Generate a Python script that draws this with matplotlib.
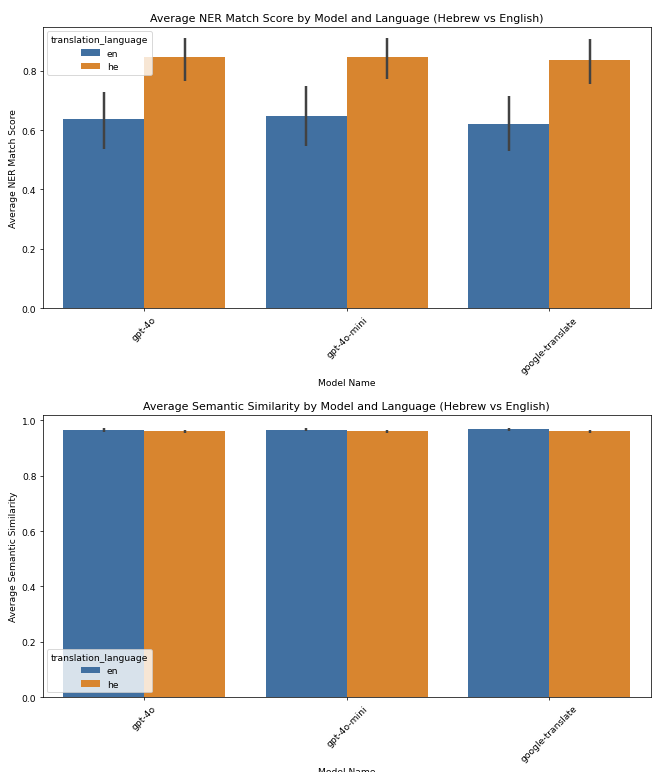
import numpy as np
import matplotlib
matplotlib.use("Agg")
import matplotlib.pyplot as plt

models = ["gpt-4o", "gpt-4o-mini", "google-translate"]
languages = ["en", "he"]

# NER match score: mean, ci low, ci high
ner_en = [0.638, 0.646, 0.620]
ner_en_lo = [0.537, 0.546, 0.530]
ner_en_hi = [0.728, 0.748, 0.715]
ner_he = [0.845, 0.845, 0.836]
ner_he_lo = [0.766, 0.773, 0.757]
ner_he_hi = [0.910, 0.910, 0.907]

# semantic similarity: mean, ci low, ci high
sem_en = [0.965, 0.966, 0.968]
sem_en_lo = [0.959, 0.960, 0.963]
sem_en_hi = [0.971, 0.972, 0.974]
sem_he = [0.961, 0.961, 0.961]
sem_he_lo = [0.955, 0.955, 0.956]
sem_he_hi = [0.967, 0.967, 0.967]

colors = ["#4170a1", "#d8852f"]


def draw(ax, means, los, his, title, ylabel, legend_loc):
    x = np.arange(len(models))
    w = 0.4
    for i, lang in enumerate(languages):
        xs = x - 0.2 + i * w
        ax.bar(xs, means[i], width=w, color=colors[i], label=lang, linewidth=0)
        ax.vlines(xs, los[i], his[i], color="#424242", linewidth=2.7)
    ax.set_xlim(-0.5, len(models) - 0.5)
    ax.set_xticks(x)
    ax.set_xticklabels(models, rotation=45)
    ax.set_xlabel("Model Name")
    ax.set_ylabel(ylabel)
    ax.set_title(title)
    ax.legend(title="translation_language", loc=legend_loc)


fig = plt.figure(figsize=(10, 11.712), dpi=66)
ax1 = fig.add_axes([0.065, 0.600, 0.921, 0.364])
ax2 = fig.add_axes([0.065, 0.097, 0.921, 0.365])

draw(ax1, [ner_en, ner_he], [ner_en_lo, ner_he_lo], [ner_en_hi, ner_he_hi],
     "Average NER Match Score by Model and Language (Hebrew vs English)",
     "Average NER Match Score", "upper left")
ax1.set_ylim(0, 0.948)

draw(ax2, [sem_en, sem_he], [sem_en_lo, sem_he_lo], [sem_en_hi, sem_he_hi],
     "Average Semantic Similarity by Model and Language (Hebrew vs English)",
     "Average Semantic Similarity", "lower left")
ax2.set_ylim(0, 1.02)

fig.savefig("out.png", dpi=66)
